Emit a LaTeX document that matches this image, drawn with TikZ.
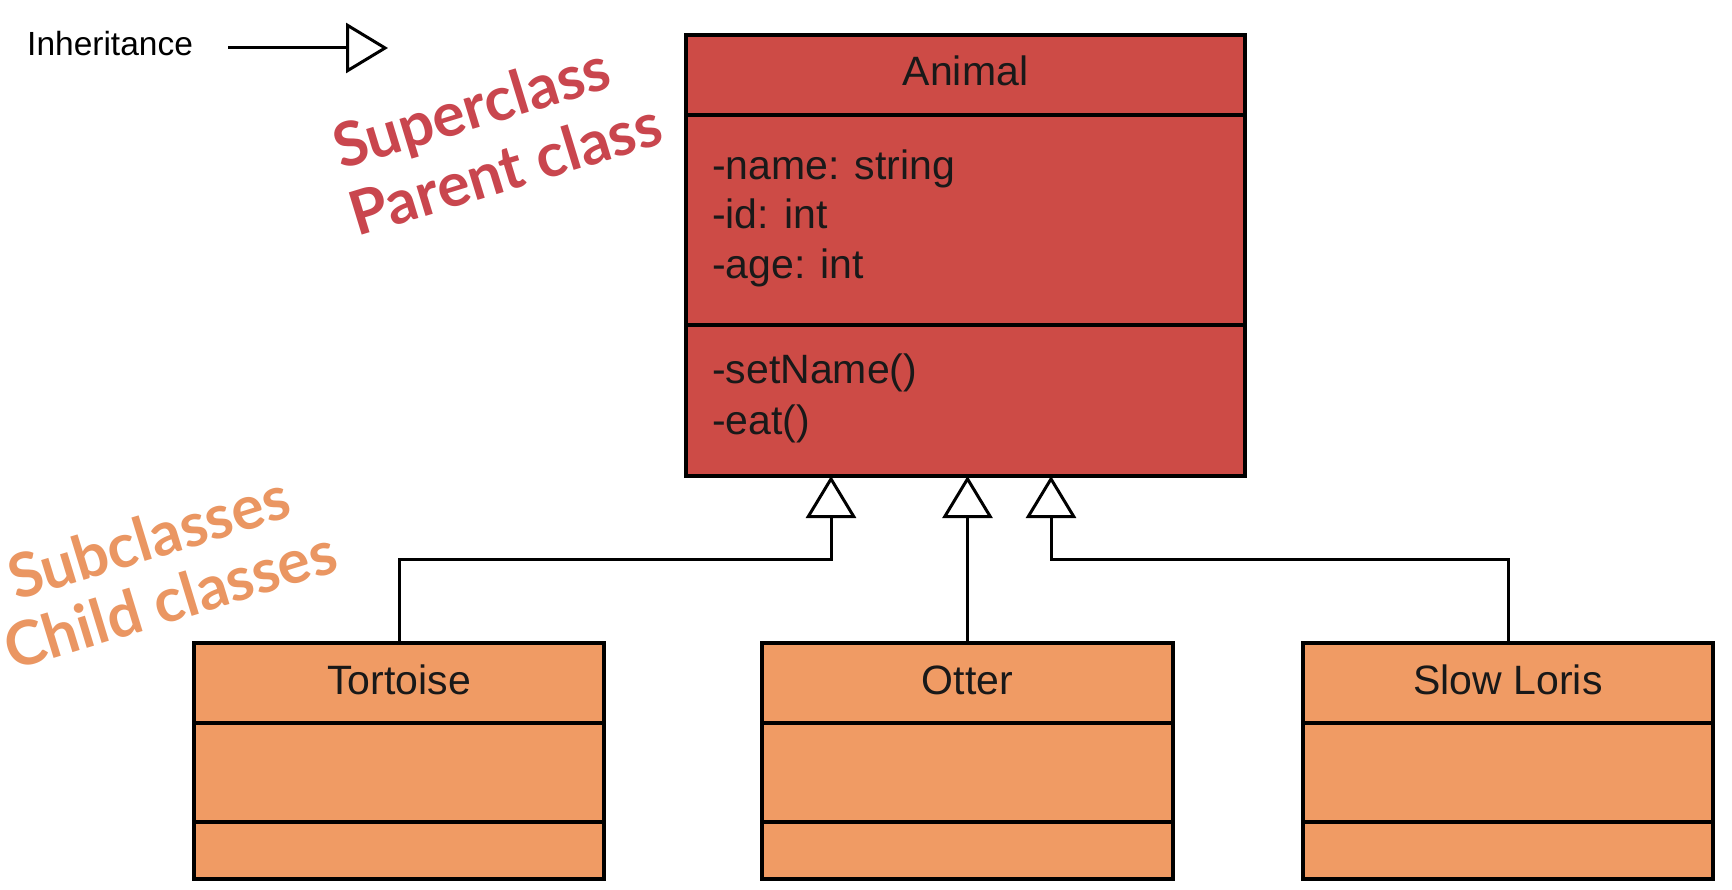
\documentclass[tikz,border=0pt]{standalone}
\usepackage{fontspec}
\setmainfont{Liberation Sans}
\newfontfamily\latofont{Lato}
\usetikzlibrary{arrows.meta}
\definecolor{animalfill}{RGB}{205,75,70}
\definecolor{childfill}{RGB}{240,155,100}
\definecolor{superred}{RGB}{201,70,78}
\definecolor{suborange}{RGB}{234,150,98}
\begin{document}
\begin{tikzpicture}[x=1pt,y=-1pt,
  classbox/.style={draw=black, line width=3.5pt, inner sep=0pt, outer sep=0pt},
  divider/.style={draw=black, line width=3.5pt},
  uml/.style={font=\fontsize{41}{49}\selectfont, text=black!90, inner sep=0pt},
  inh/.style={line width=3pt, -{Triangle[open, length=42pt, width=50pt, line width=3pt]}},
  note/.style={font=\latofont\bfseries\fontsize{61}{72}\selectfont, inner sep=0pt, anchor=base west, rotate=17}
]
\useasboundingbox (0,0) rectangle (1732,890);
\fill[white] (0,0) rectangle (1732,890);

% legend
\node[font=\fontsize{33.5}{40}\selectfont, inner sep=0pt, anchor=base west] (legend) at (27,56) {Inheritance};
\coordinate (legA) at (228,48);
\coordinate (legB) at (388,48);
\draw[inh] (legA) -- (legB);

% superclass
\node[classbox, fill=animalfill, minimum width=559pt, minimum height=441pt] (animal) at (965.5,255.5) {};
\draw[divider] (686,115) -- (1245,115);
\draw[divider] (686,325) -- (1245,325);
\node[uml, anchor=base] (aname) at (965.5,86) {Animal};
\node[uml, anchor=base west] (at1) at (712,180) {-name: string};
\node[uml, anchor=base west] (at2) at (712,229) {-id: int};
\node[uml, anchor=base west] (at3) at (712,279) {-age: int};
\node[uml, anchor=base west] (op1) at (712,384) {-setName()};
\node[uml, anchor=base west] (op2) at (712,434) {-eat()};

% subclasses
\node[classbox, fill=childfill, minimum width=410pt, minimum height=236pt] (tort) at (399,761) {};
\node[classbox, fill=childfill, minimum width=411pt, minimum height=236pt] (otter) at (967.5,761) {};
\node[classbox, fill=childfill, minimum width=410pt, minimum height=236pt] (loris) at (1508,761) {};
\foreach \n in {tort,otter,loris}{
  \draw[divider] (\n.west |- 0,723) -- (\n.east |- 0,723);
  \draw[divider] (\n.west |- 0,822) -- (\n.east |- 0,822);
}
\node[uml, anchor=base] (tname) at (399,694) {Tortoise};
\node[uml, anchor=base] (oname) at (967.5,694) {Otter};
\node[uml, anchor=base] (lname) at (1508,694) {Slow Loris};

% connectors
\coordinate (a1) at (831,476);
\coordinate (j1) at (831,559);
\coordinate (a3) at (1051,476);
\coordinate (j3) at (1051,559);
\draw[inh] (tort.north) |- (j1) -- (a1);
\draw[inh] (otter.north) -- (otter.north |- animal.south);
\draw[inh] (loris.north) |- (j3) -- (a3);

% annotations
\node[note, text=superred] (sup1) at (341,170) {Superclass};
\node[note, text=superred] (sup2) at (357,237) {Parent class};
\node[note, text=suborange] (sub1) at (16,601) {Subclasses};
\node[note, text=suborange] (sub2) at (12,671) {Child classes};
\end{tikzpicture}
\end{document}
